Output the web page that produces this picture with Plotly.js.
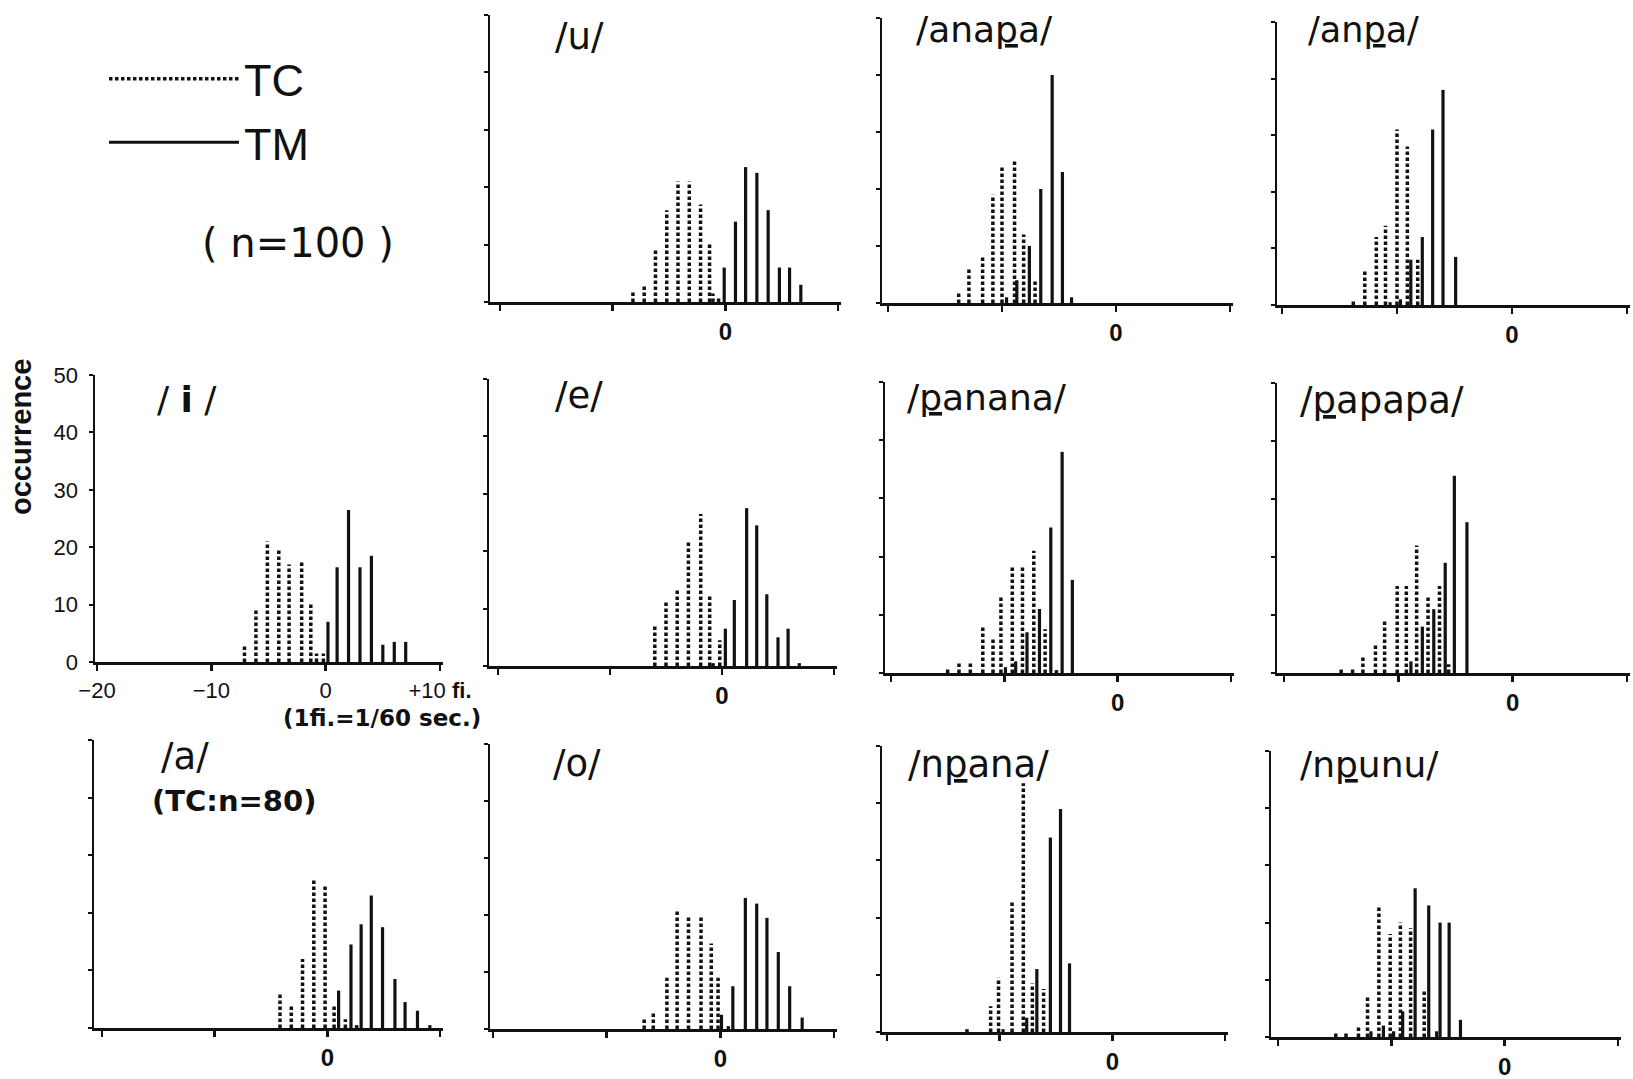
<!DOCTYPE html>
<html>
<head>
<meta charset="utf-8">
<script src="https://cdn.plot.ly/plotly-3.0.1.min.js"></script>
<style>
html, body { margin: 0; padding: 0; background: #ffffff; }
#chart { width: 1633px; height: 1079px; }
</style>
</head>
<body>
<div id="chart"></div>
<script>
// ---- data: frame offset (1 fi. = 1/60 s) and occurrence count ----
const u_TC_frames = [-8.2, -7.2, -6.2, -5.2, -4.2, -3.2, -2.2, -1.4, -1.1, -0.6];
const u_TC_counts = [2, 3, 9, 16, 21, 21, 17, 10, 1.5, 1];
const u_TM_frames = [-0.1, 0.9, 1.8, 2.8, 3.8, 4.8, 5.7, 6.7];
const u_TM_counts = [6, 14, 23.5, 22.5, 16, 6, 6, 3];

const anapa_TC_frames = [-13.8, -12.9, -11.7, -10.8, -10.0, -8.9, -8.1, -7.1];
const anapa_TC_counts = [2, 6, 8, 19, 24, 25, 12, 4];
const anapa_TM_frames = [-9.6, -8.7, -7.6, -6.6, -5.6, -4.7, -3.9];
const anapa_TM_counts = [1, 4, 10, 20, 40, 23, 1];

const anpa_TC_frames = [-13.8, -12.8, -11.8, -11.0, -10.0, -9.1, -8.2];
const anpa_TC_counts = [1, 6, 12, 14, 31, 28, 8];
const anpa_TM_frames = [-10.6, -9.7, -8.8, -7.8, -6.9, -6.0, -4.9];
const anpa_TM_counts = [0.5, 1, 8, 12, 31, 38, 8.5];

const i_TC_frames = [-7.1, -6.1, -5.1, -4.1, -3.2, -2.1, -1.3, -0.8, -0.2];
const i_TC_counts = [3, 9, 21, 19.5, 17, 17.5, 10, 1.5, 1.5];
const i_TM_frames = [0.2, 1.0, 2.0, 3.0, 4.0, 5.0, 6.0, 7.0];
const i_TM_counts = [7, 16.5, 26.5, 16.5, 18.5, 3, 3.5, 3.5];

const e_TC_frames = [-6.0, -5.0, -4.0, -3.0, -1.9, -1.1, -0.8, -0.2];
const e_TC_counts = [7, 11.5, 13.5, 21.5, 26.5, 12.5, 0.5, 4.5];
const e_TM_frames = [0.3, 1.1, 2.2, 3.1, 4.0, 5.0, 5.9, 6.9];
const e_TM_counts = [6.5, 11.5, 27.5, 24.5, 12.5, 5, 6.5, 0.5];

const panana_TC_frames = [-15.0, -14.0, -13.0, -11.9, -11.0, -10.3, -9.3, -8.4, -7.4, -6.4, -5.4];
const panana_TC_counts = [1, 2, 2, 8, 6, 13, 18.5, 18.5, 21, 7.5, 0.5];
const panana_TM_frames = [-9.9, -9.0, -8.0, -6.9, -5.9, -4.9, -4.0];
const panana_TM_counts = [1, 2, 7, 11, 25, 38, 16];

const papapa_TC_frames = [-15.0, -14.0, -13.1, -12.0, -11.2, -10.1, -9.3, -8.4, -7.4, -6.4, -5.6];
const papapa_TC_counts = [1, 1, 3, 5, 9, 15, 15, 22, 13, 15, 1.5];
const papapa_TM_frames = [-8.9, -7.9, -6.9, -5.9, -5.1, -4.0];
const papapa_TM_counts = [2, 8, 11, 19, 34, 26];

const a_TC_frames = [-4.2, -3.2, -2.2, -1.2, -0.2, 0.6, 1.6, 2.6];
const a_TC_counts = [6, 4, 12, 26, 25, 4, 1.5, 0.5];
const a_TM_frames = [1.0, 2.1, 3.0, 3.9, 4.9, 6.0, 6.9, 8.0, 9.1];
const a_TM_counts = [6.5, 14.5, 18, 23, 17.5, 8.5, 4.5, 3, 0.5];

const o_TC_frames = [-6.7, -5.9, -4.7, -3.8, -2.8, -1.7, -0.8, -0.2];
const o_TC_counts = [2, 3, 9, 21, 20, 20, 15, 9];
const o_TM_frames = [0.1, 0.7, 1.1, 2.2, 3.2, 4.1, 5.1, 6.1, 7.2];
const o_TM_counts = [2.5, 0.5, 7.5, 23, 22, 19.5, 13.5, 7.5, 2];

const npana_TC_frames = [-12.9, -10.8, -10.1, -8.9, -7.9, -7.1, -6.1];
const npana_TC_counts = [0.5, 4.5, 9.5, 23, 43.5, 8.5, 7.5];
const npana_TM_frames = [-9.7, -7.6, -6.7, -5.5, -4.6, -3.8];
const npana_TM_counts = [0.5, 2.5, 11, 34, 39, 12];

const npunu_TC_frames = [-14.9, -14.0, -12.9, -12.1, -11.1, -10.1, -9.2, -8.3, -7.1];
const npunu_TC_counts = [1, 1, 2, 7, 23, 18, 20, 19, 8];
const npunu_TM_frames = [-11.8, -10.7, -9.8, -9.0, -7.9, -6.7, -6.0, -5.7, -4.9, -3.9];
const npunu_TM_counts = [1, 2, 1, 4.5, 26, 23, 1, 20, 20, 3];

const seriesNames = ['TC', 'TM'];
const frameTicks = [-20, -10, 0, 10];
const frameTickLabels = ['\u221220', '\u221210', '0', '+10 <b>fi.</b>'];
const frameTickZeroOnly = ['', '', '0', ''];
const countTicks = [0, 10, 20, 30, 40, 50];
const countTickLabels = ['0', '10', '20', '30', '40', '50'];

// ---- page geometry (pixels of the 1633x1079 page) ----
const W = 1633, H = 1079;
const panels = [
  { title: '/u/', tc: [u_TC_frames, u_TC_counts], tm: [u_TM_frames, u_TM_counts],
    g: { axis: 490, xm20: 500, xp10: 838, y0: 302, y50: 15 }, t: { x: 553, base: 49, size: 37 } },
  { title: '/ana<u>p</u>a/', tc: [anapa_TC_frames, anapa_TC_counts], tm: [anapa_TM_frames, anapa_TM_counts],
    g: { axis: 882, xm20: 888, xp10: 1230, y0: 303, y50: 18 }, t: { x: 914, base: 42, size: 36 } },
  { title: '/an<u>p</u>a/', tc: [anpa_TC_frames, anpa_TC_counts], tm: [anpa_TM_frames, anpa_TM_counts],
    g: { axis: 1277, xm20: 1282, xp10: 1627, y0: 305, y50: 22 }, t: { x: 1306, base: 42, size: 35 } },
  { title: '/ <b>i</b> /', tc: [i_TC_frames, i_TC_counts], tm: [i_TM_frames, i_TM_counts], main: true,
    g: { axis: 95, xm20: 97, xp10: 440, y0: 662, y50: 375 }, t: { x: 155, base: 412, size: 36 } },
  { title: '/e/', tc: [e_TC_frames, e_TC_counts], tm: [e_TM_frames, e_TM_counts],
    g: { axis: 489, xm20: 498, xp10: 834, y0: 666, y50: 379 }, t: { x: 553, base: 408, size: 37 } },
  { title: '/<u>p</u>anana/', tc: [panana_TC_frames, panana_TC_counts], tm: [panana_TM_frames, panana_TM_counts],
    g: { axis: 885, xm20: 891, xp10: 1231, y0: 673, y50: 382 }, t: { x: 905, base: 410, size: 36 } },
  { title: '/<u>p</u>apapa/', tc: [papapa_TC_frames, papapa_TC_counts], tm: [papapa_TM_frames, papapa_TM_counts],
    g: { axis: 1277, xm20: 1284, xp10: 1627, y0: 673, y50: 383 }, t: { x: 1298, base: 413, size: 37 } },
  { title: '/a/', tc: [a_TC_frames, a_TC_counts], tm: [a_TM_frames, a_TM_counts],
    g: { axis: 94, xm20: 102, xp10: 440, y0: 1028, y50: 740 }, t: { x: 159, base: 769, size: 37 } },
  { title: '/o/', tc: [o_TC_frames, o_TC_counts], tm: [o_TM_frames, o_TM_counts],
    g: { axis: 490, xm20: 493, xp10: 834, y0: 1029, y50: 744 }, t: { x: 551, base: 776, size: 37 } },
  { title: '/n<u>p</u>ana/', tc: [npana_TC_frames, npana_TC_counts], tm: [npana_TM_frames, npana_TM_counts],
    g: { axis: 882, xm20: 887, xp10: 1225, y0: 1032, y50: 746 }, t: { x: 906, base: 777, size: 37 } },
  { title: '/n<u>p</u>unu/', tc: [npunu_TC_frames, npunu_TC_counts], tm: [npunu_TM_frames, npunu_TM_counts],
    g: { axis: 1271, xm20: 1278, xp10: 1618, y0: 1037, y50: 751 }, t: { x: 1298, base: 777, size: 36 } }
];

const INK = '#111111';
const TITLE_FONT = 'DejaVu Sans, Liberation Sans, sans-serif';
const TICK_FONT = 'Liberation Sans, Arial, sans-serif';

function stems(frames, counts) {
  const x = [], y = [];
  frames.forEach((f, j) => { x.push(f, f, null); y.push(0, counts[j], null); });
  return { x, y };
}

const traces = [];
const layout = {
  width: W, height: H,
  margin: { l: 0, r: 0, t: 0, b: 0 },
  paper_bgcolor: '#ffffff', plot_bgcolor: 'rgba(0,0,0,0)',
  showlegend: true,
  legend: {
    x: 104 / W, y: 1 - 43 / H, xanchor: 'left', yanchor: 'top',
    font: { family: TICK_FONT, size: 45, color: INK },
    itemwidth: 130, bgcolor: 'rgba(0,0,0,0)', borderwidth: 0,
    traceorder: 'grouped', tracegroupgap: 2, itemclick: false, itemdoubleclick: false
  },
  annotations: [],
  hovermode: false
};

panels.forEach((p, i) => {
  const k = i + 1, sfx = k === 1 ? '' : String(k);
  const g = p.g;
  const ppu = (g.xp10 - g.xm20) / 30;
  const right = g.xp10 + 3;
  layout['xaxis' + sfx] = {
    domain: [g.axis / W, right / W],
    range: [-20 - (g.xm20 - g.axis) / ppu, 10 + (right - g.xp10) / ppu],
    anchor: 'y' + sfx, fixedrange: true,
    showline: true, linecolor: INK, linewidth: 2.5,
    showgrid: false, zeroline: false,
    ticks: 'outside', ticklen: 6, tickwidth: 2.5, tickcolor: INK,
    tickmode: 'array', tickvals: frameTicks,
    ticktext: p.main ? frameTickLabels : frameTickZeroOnly,
    tickfont: p.main ? { family: TICK_FONT, size: 22, color: INK }
                     : { family: TICK_FONT, size: 24, color: INK, weight: 'bold' },
    ticklabelstandoff: 1
  };
  layout['yaxis' + sfx] = {
    domain: [(H - g.y0) / H, (H - g.y50) / H],
    range: [0, 50], anchor: 'x' + sfx, fixedrange: true,
    showline: true, linecolor: INK, linewidth: 2.5,
    showgrid: false, zeroline: false,
    ticks: 'outside', ticklen: 4, tickwidth: 2, tickcolor: INK,
    tickmode: 'array', tickvals: countTicks, ticktext: countTickLabels,
    showticklabels: !!p.main,
    tickfont: { family: TICK_FONT, size: 22, color: INK },
    ticklabelstandoff: 6
  };
  [[seriesNames[0], p.tc, '3.5px,2.5px', 3.5], [seriesNames[1], p.tm, 'solid', 3.2]].forEach(([name, d, dash, w]) => {
    const s = stems(d[0], d[1]);
    traces.push({
      type: 'scatter', mode: 'lines', x: s.x, y: s.y,
      xaxis: 'x' + sfx, yaxis: 'y' + sfx,
      name: name, legendgroup: name, showlegend: k === 1,
      line: { color: INK, width: w, dash: dash },
      hoverinfo: 'skip', connectgaps: false
    });
  });
  layout.annotations.push({
    xref: 'paper', yref: 'paper', showarrow: false,
    x: p.t.x / W, y: 1 - (p.t.base - 0.35 * p.t.size) / H,
    xanchor: 'left', yanchor: 'middle',
    text: p.title, font: { family: TITLE_FONT, size: p.t.size, color: INK }
  });
});

// additional texts
layout.annotations.push(
  { xref: 'paper', yref: 'paper', showarrow: false, x: 200 / W, y: 1 - 243 / H,
    xanchor: 'left', yanchor: 'middle', text: '( n=100 )',
    font: { family: TITLE_FONT, size: 40, color: INK } },
  { xref: 'paper', yref: 'paper', showarrow: false, x: 150 / W, y: 1 - 801 / H,
    xanchor: 'left', yanchor: 'middle', text: '<b>(TC:n=80)</b>',
    font: { family: TITLE_FONT, size: 29, color: INK } },
  { xref: 'paper', yref: 'paper', showarrow: false, x: 382 / W, y: 1 - 718 / H,
    xanchor: 'center', yanchor: 'middle', text: '<b>(1fi.=1/60 sec.)</b>',
    font: { family: TITLE_FONT, size: 23, color: INK } },
  { xref: 'paper', yref: 'paper', showarrow: false, x: 21 / W, y: 1 - 437 / H,
    xanchor: 'center', yanchor: 'middle', textangle: -90, text: '<b>occurrence</b>',
    font: { family: TICK_FONT, size: 29, color: INK } }
);

Plotly.newPlot('chart', traces, layout, { staticPlot: true, displayModeBar: false });
</script>
</body>
</html>
